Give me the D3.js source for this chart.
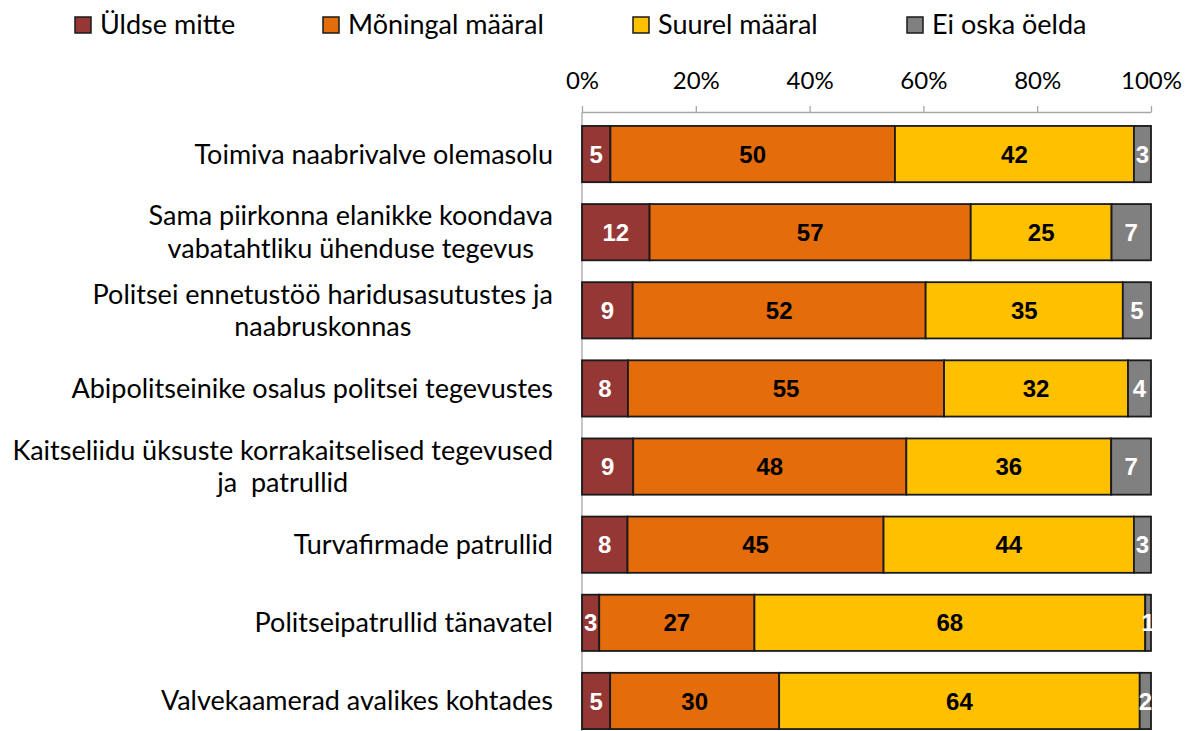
<!DOCTYPE html>
<html><head><meta charset="utf-8">
<script src="https://cdn.jsdelivr.net/npm/d3@7/dist/d3.min.js"></script>
<style>
body{margin:0;background:#fff;}
svg{display:block;}
</style></head><body>
<svg id="chart" width="1189" height="731"></svg>
<script>
const categories = [
  ["Toimiva naabrivalve olemasolu"],
  ["Sama piirkonna elanikke koondava", "vabatahtliku ühenduse tegevus"],
  ["Politsei ennetustöö haridusasutustes ja", "naabruskonnas"],
  ["Abipolitseinike osalus politsei tegevustes"],
  ["Kaitseliidu üksuste korrakaitselised tegevused", "ja  patrullid"],
  ["Turvafirmade patrullid"],
  ["Politseipatrullid tänavatel"],
  ["Valvekaamerad avalikes kohtades"]
];
const seriesNames = ["Üldse mitte", "Mõningal määral", "Suurel määral", "Ei oska öelda"];
const uldseMitte   = [5, 12, 9, 8, 9, 8, 3, 5];
const moningal     = [50, 57, 52, 55, 48, 45, 27, 30];
const suurel       = [42, 25, 35, 32, 36, 44, 68, 64];
const eiOska       = [3, 7, 5, 4, 7, 3, 1, 2];
const tickValues = [0, 0.2, 0.4, 0.6, 0.8, 1.0];
const colors = ["#953735", "#E46C0A", "#FFC000", "#808080"];
const labelColors = ["#ffffff", "#000000", "#000000", "#ffffff"];

const series = [uldseMitte, moningal, suurel, eiOska];
const rows = categories.map((c, i) => {
  const vals = series.map(s => s[i]);
  const total = d3.sum(vals);
  let acc = 0;
  return vals.map((v, k) => { const seg = {k, v, x0: acc/total, x1: (acc+v)/total, row: i}; acc += v; return seg; });
});

const svg = d3.select("#chart");
const x = d3.scaleLinear().domain([0, 1]).range([582, 1151]);
const y = d3.scaleBand().domain(d3.range(categories.length)).range([115, 740]).paddingInner(0.28).paddingOuter(0.14);

const labelFont = "Lato, 'Open Sans', sans-serif";
const numFont = "'Liberation Sans Narrow', 'Arial Narrow', 'Liberation Sans', sans-serif";

// axis
const axis = d3.axisTop(x).tickValues(tickValues).tickFormat(d3.format(".0%")).tickSize(6).tickSizeOuter(0);
const gAx = svg.append("g").attr("transform", "translate(0,112)").call(axis);
gAx.select(".domain").attr("stroke", "#a6a6a6").attr("stroke-width", 1.3);
gAx.selectAll(".tick line").attr("stroke", "#a6a6a6").attr("stroke-width", 1.3);
gAx.selectAll(".tick text").attr("font-family", labelFont).attr("font-size", 24).attr("fill", "#000")
  .attr("y", -32).attr("dy", "0.36em");

// vertical axis line
svg.append("line").attr("x1", x(0)).attr("x2", x(0)).attr("y1", 112).attr("y2", 731)
  .attr("stroke", "#a6a6a6").attr("stroke-width", 1.3);

// bars
const gRows = svg.append("g").selectAll("g").data(rows).join("g");
gRows.selectAll("rect").data(d => d).join("rect")
  .attr("x", d => x(d.x0)).attr("width", d => x(d.x1) - x(d.x0))
  .attr("y", d => y(d.row)).attr("height", y.bandwidth())
  .attr("fill", d => colors[d.k]).attr("stroke", "#1a1a1a").attr("stroke-width", 1.8);
gRows.selectAll("text").data(d => d).join("text")
  .attr("x", d => (x(d.x0) + x(d.x1)) / 2)
  .attr("y", d => y(d.row) + y.bandwidth() / 2)
  .attr("dy", "0.36em").attr("text-anchor", "middle")
  .attr("font-family", numFont).attr("font-weight", "bold").attr("font-size", 24)
  .attr("fill", d => labelColors[d.k]).text(d => d.v);

// category labels
const lineH = 32.5;
categories.forEach((lines, i) => {
  const cy = y(i) + y.bandwidth() / 2;
  const g = svg.append("g");
  const texts = lines.map((ln, j) => g.append("text")
    .attr("font-family", labelFont).attr("font-size", 27).attr("fill", "#000")
    .attr("text-anchor", "middle").attr("dy", "0.35em").attr("xml:space", "preserve")
    .style("white-space", "pre")
    .attr("y", cy + (j - (lines.length - 1) / 2) * lineH).text(ln));
  const maxW = d3.max(texts, t => t.node().getComputedTextLength());
  texts.forEach(t => t.attr("x", 553 - maxW / 2));
});

// legend
const legX = [75, 323, 633, 907];
seriesNames.forEach((n, k) => {
  svg.append("rect").attr("x", legX[k]).attr("y", 17).attr("width", 16).attr("height", 16)
    .attr("fill", colors[k]).attr("stroke", "#1a1a1a").attr("stroke-width", 1.5);
  svg.append("text").attr("x", legX[k] + 25).attr("y", 25).attr("dy", "0.35em")
    .attr("font-family", labelFont).attr("font-size", 27).attr("fill", "#000").text(n);
});
</script>
</body></html>
